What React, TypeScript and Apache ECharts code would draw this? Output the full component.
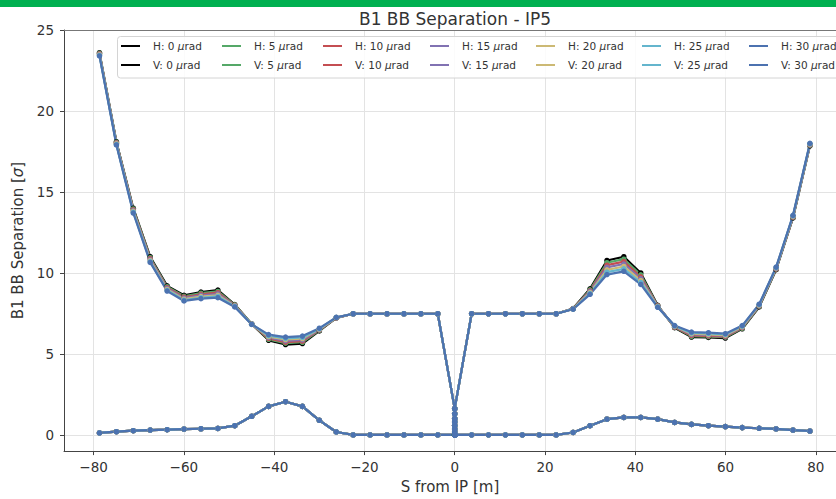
import React, { useEffect, useRef } from "react";
import * as echarts from "echarts";

// Long-range encounter positions (m) on either side of IP5
const S_LEFT = [-78.69, -74.94, -71.2, -67.45, -63.7, -59.96, -56.21, -52.46, -48.72, -44.97, -41.22, -37.47, -33.73, -29.98, -26.23, -22.48, -18.74, -14.99, -11.24, -7.49, -3.75];
const S_RIGHT = [3.75, 7.49, 11.24, 14.99, 18.74, 22.48, 26.23, 29.98, 33.73, 37.47, 41.22, 44.97, 48.72, 52.46, 56.21, 59.96, 63.7, 67.45, 71.2, 74.94, 78.69];

// Head-on slices at the IP (s = 0)
const HEAD_ON_H = [1.62, 1.3, 1.0, 0.8, 0.58, 0.37, 0.18, 0, 0.18, 0.37, 0.58, 0.8, 1.0, 1.3, 1.62];
const HEAD_ON_V = [0, 0, 0, 0, 0, 0, 0, 0, 0, 0, 0, 0, 0, 0, 0];

const ANGLES = [0, 5, 10, 15, 20, 25, 30];
const COLORS = ["#000000", "#55A868", "#C44E52", "#8172B2", "#CCB974", "#64B5CD", "#4C72B0"];

// Horizontal separation [sigma]: 21 left encounters followed by 21 right encounters
const H_0 = [23.6, 18.1, 14.0, 11.0, 9.2, 8.62, 8.82, 8.94, 8.05, 6.85, 5.84, 5.58, 5.64, 6.42, 7.22, 7.48, 7.48, 7.48, 7.48, 7.48, 7.48,
  7.48, 7.48, 7.48, 7.48, 7.48, 7.48, 7.8, 9.02, 10.77, 11.0, 10.0, 8.0, 6.62, 6.04, 6.02, 5.98, 6.55, 7.9, 10.2, 13.4, 17.85];
const H_5 = [23.57, 18.07, 13.95, 10.94, 9.15, 8.56, 8.75, 8.86, 8.03, 6.85, 5.9, 5.66, 5.72, 6.45, 7.23, 7.48, 7.48, 7.48, 7.48, 7.48, 7.48,
  7.48, 7.48, 7.48, 7.48, 7.48, 7.48, 7.79, 8.96, 10.63, 10.85, 9.88, 7.98, 6.64, 6.09, 6.07, 6.03, 6.58, 7.93, 10.23, 13.43, 17.88];
const H_10 = [23.53, 18.03, 13.9, 10.88, 9.09, 8.5, 8.68, 8.78, 8.0, 6.84, 5.96, 5.73, 5.79, 6.48, 7.23, 7.48, 7.48, 7.48, 7.48, 7.48, 7.48,
  7.48, 7.48, 7.48, 7.48, 7.48, 7.48, 7.79, 8.9, 10.48, 10.7, 9.76, 7.96, 6.66, 6.14, 6.12, 6.07, 6.62, 7.96, 10.25, 13.45, 17.9];
const H_15 = [23.5, 18.0, 13.85, 10.82, 9.04, 8.44, 8.61, 8.7, 7.98, 6.84, 6.02, 5.81, 5.87, 6.5, 7.24, 7.48, 7.48, 7.48, 7.48, 7.48, 7.48,
  7.48, 7.48, 7.48, 7.48, 7.48, 7.48, 7.78, 8.85, 10.34, 10.55, 9.65, 7.94, 6.69, 6.2, 6.17, 6.12, 6.65, 7.99, 10.28, 13.48, 17.93];
const H_20 = [23.47, 17.97, 13.8, 10.76, 8.98, 8.38, 8.54, 8.62, 7.95, 6.83, 6.07, 5.89, 5.95, 6.53, 7.25, 7.48, 7.48, 7.48, 7.48, 7.48, 7.48,
  7.48, 7.48, 7.48, 7.48, 7.48, 7.48, 7.77, 8.79, 10.19, 10.4, 9.53, 7.92, 6.71, 6.25, 6.21, 6.16, 6.68, 8.01, 10.31, 13.51, 17.95];
const H_25 = [23.43, 17.93, 13.75, 10.7, 8.93, 8.32, 8.47, 8.55, 7.93, 6.83, 6.13, 5.96, 6.02, 6.56, 7.25, 7.48, 7.48, 7.48, 7.48, 7.48, 7.48,
  7.48, 7.48, 7.48, 7.48, 7.48, 7.48, 7.77, 8.73, 10.05, 10.25, 9.41, 7.9, 6.73, 6.3, 6.26, 6.21, 6.72, 8.04, 10.33, 13.53, 17.98];
const H_30 = [23.4, 17.9, 13.7, 10.65, 8.88, 8.27, 8.41, 8.47, 7.9, 6.82, 6.19, 6.04, 6.1, 6.59, 7.26, 7.48, 7.48, 7.48, 7.48, 7.48, 7.48,
  7.48, 7.48, 7.48, 7.48, 7.48, 7.48, 7.76, 8.68, 9.9, 10.1, 9.29, 7.88, 6.75, 6.35, 6.31, 6.25, 6.75, 8.07, 10.36, 13.56, 18.0];

// Vertical separation [sigma], identical for every angle
const V_SEP = [0.12, 0.2, 0.26, 0.3, 0.32, 0.36, 0.38, 0.4, 0.57, 1.15, 1.76, 2.05, 1.76, 0.9, 0.18, 0, 0, 0, 0, 0, 0,
  0, 0, 0, 0, 0, 0, 0.15, 0.57, 0.97, 1.08, 1.08, 0.97, 0.77, 0.65, 0.57, 0.51, 0.45, 0.41, 0.37, 0.3, 0.24];

const H_SERIES = [H_0, H_5, H_10, H_15, H_20, H_25, H_30];

// Legend column positions (px)
const LEGEND_LEFT = [121, 222, 323, 430, 536, 642, 749];

function buildPoints(sep: number[], headOn: number[]): number[][] {
  const pts: number[][] = [];
  S_LEFT.forEach((s, i) => pts.push([s, sep[i]]));
  headOn.forEach((v) => pts.push([0, v]));
  S_RIGHT.forEach((s, i) => pts.push([s, sep[S_LEFT.length + i]]));
  return pts;
}

const FONT = "DejaVu Sans";

export default function App() {
  const ref = useRef<HTMLDivElement>(null);

  useEffect(() => {
    document.body.style.margin = "0";
    if (!ref.current) return;
    const chart = echarts.init(ref.current, undefined, { renderer: "svg" });

    const series: any[] = [];
    const names: string[][] = [];
    ANGLES.forEach((a, k) => {
      const hName = `H: ${a} μrad`;
      const vName = `V: ${a} μrad`;
      names.push([hName, vName]);
      const common = {
        type: "line",
        symbol: "circle",
        symbolSize: 5.5,
        color: COLORS[k],
        lineStyle: { width: 2.2, color: COLORS[k] },
        itemStyle: { color: COLORS[k] },
        emphasis: { disabled: true },
      };
      series.push({ ...common, name: hName, data: buildPoints(H_SERIES[k], HEAD_ON_H) });
      series.push({ ...common, name: vName, data: buildPoints(V_SEP, HEAD_ON_V) });
    });

    const legends = names.map((pair, k) => ({
      data: pair,
      orient: "vertical",
      left: LEGEND_LEFT[k],
      top: 39.5,
      padding: 0,
      itemGap: 6,
      itemWidth: 19,
      itemHeight: 2,
      icon: "rect",
      selectedMode: false,
      formatter: (n: string) => n.replace("μrad", "{i|μ}rad"),
      textStyle: {
        fontFamily: FONT,
        fontSize: 10.5,
        color: "#333",
        lineHeight: 13,
        padding: [0, 0, 0, 8],
        rich: { i: { fontStyle: "italic", fontFamily: FONT, fontSize: 10.5, color: "#333" } },
      },
      z: 10,
    }));

    chart.setOption({
      animation: false,
      backgroundColor: "#ffffff",
      grid: { left: 64, right: 0, top: 30, bottom: 41.6, containLabel: false },
      legend: legends,
      xAxis: {
        type: "value",
        min: -86.55,
        max: 84.47,
        splitNumber: 8,
        name: "S from IP [m]",
        nameLocation: "middle",
        nameGap: 26.5,
        nameTextStyle: { fontFamily: FONT, fontSize: 15, color: "#333" },
        axisLine: { show: true, onZero: false, lineStyle: { color: "#444", width: 1 } },
        axisTick: { show: true, length: 4, lineStyle: { color: "#444" } },
        axisLabel: {
          showMinLabel: false,
          showMaxLabel: false,
          margin: 9,
          fontFamily: FONT,
          fontSize: 13.5,
          color: "#333",
          formatter: (v: number) => String(v).replace("-", "\u2212"),
        },
        splitLine: { show: true, lineStyle: { color: "#e3e3e3", width: 1 } },
      },
      yAxis: {
        type: "value",
        min: -1,
        max: 25,
        splitNumber: 5,
        name: "B1 BB Separation [{i|σ}]",
        nameLocation: "middle",
        nameGap: 33,
        nameRotate: 90,
        nameTextStyle: {
          fontFamily: FONT,
          fontSize: 15,
          color: "#333",
          rich: { i: { fontStyle: "italic", fontFamily: FONT, fontSize: 15, color: "#333" } },
        },
        axisLine: { show: true, onZero: false, lineStyle: { color: "#444", width: 1 } },
        axisTick: { show: true, length: 4, lineStyle: { color: "#444" } },
        axisLabel: { showMinLabel: false, margin: 10, fontFamily: FONT, fontSize: 13.5, color: "#333" },
        splitLine: { show: true, lineStyle: { color: "#e3e3e3", width: 1 } },
      },
      graphic: [
        { type: "rect", left: 0, top: 0, shape: { x: 0, y: 0, width: 836, height: 7 }, style: { fill: "#00b050" }, z: 10 },
        {
          type: "text",
          x: 455,
          y: 19,
          style: { text: "B1 BB Separation - IP5", fontFamily: FONT, fontSize: 17, fill: "#333", textAlign: "center", textVerticalAlign: "middle" },
          z: 10,
        },
        { type: "line", shape: { x1: 64, y1: 30.5, x2: 836, y2: 30.5 }, style: { stroke: "#777", lineWidth: 1 }, z: 10 },
        {
          type: "rect",
          shape: { x: 117.5, y: 36.5, width: 740, height: 41.5, r: 3 },
          style: { fill: "rgba(255,255,255,0.85)", stroke: "#d4d4d4", lineWidth: 1 },
          z: 5,
        },
      ],
      series,
    });

    return () => chart.dispose();
  }, []);

  return <div ref={ref} style={{ position: "fixed", left: 0, top: 0, width: 836, height: 499 }} />;
}
